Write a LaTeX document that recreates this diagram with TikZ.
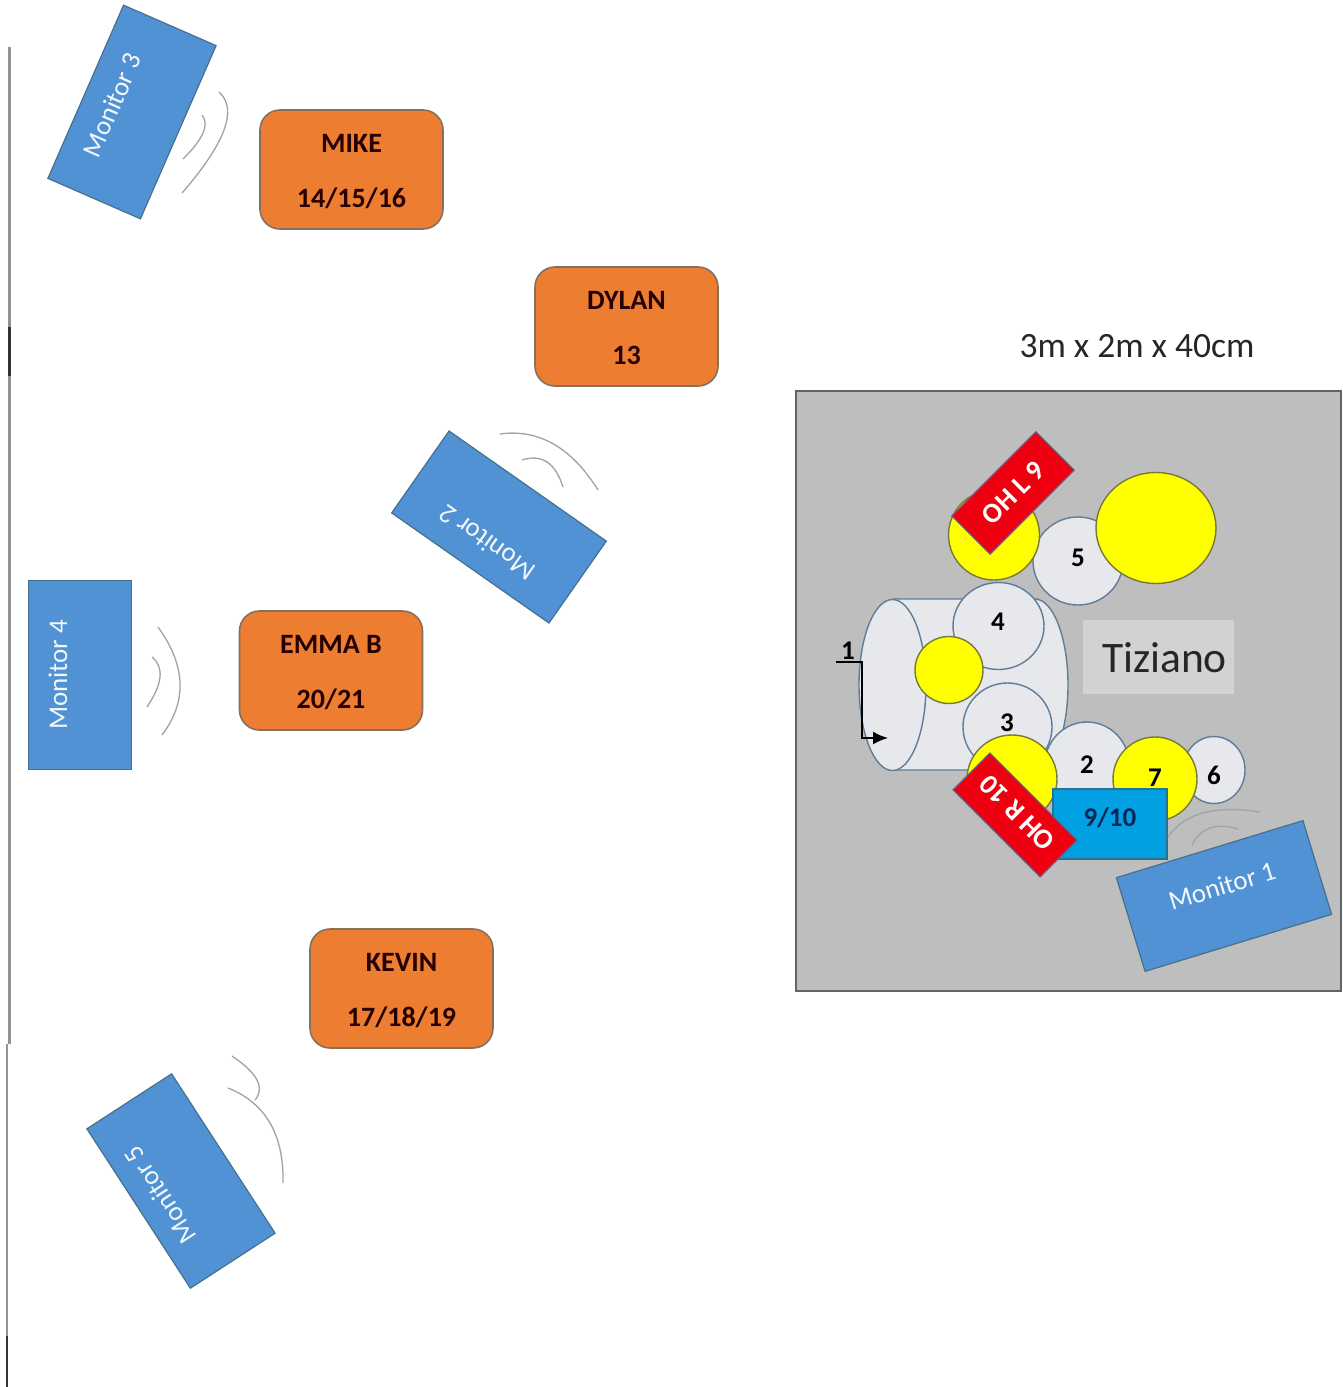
\documentclass[tikz,border=0pt]{standalone}
\usepackage{fontspec}
\setmainfont{Carlito}
\usetikzlibrary{arrows.meta,shapes.geometric,calc}
\definecolor{monfill}{HTML}{5092D4}
\definecolor{monline}{HTML}{47708F}
\definecolor{monfont}{HTML}{F2F7FC}
\definecolor{orfill}{HTML}{ED7D31}
\definecolor{orline}{HTML}{85705F}
\definecolor{riser}{HTML}{BEBEBE}
\definecolor{riserline}{HTML}{5F6468}
\definecolor{drum}{HTML}{E6E8EC}
\definecolor{drumline}{HTML}{5F7C99}
\definecolor{cym}{HTML}{FFFF00}
\definecolor{cymline}{HTML}{77793A}
\definecolor{ohfill}{HTML}{EE0010}
\definecolor{ohline}{HTML}{6D5A78}
\definecolor{tombox}{HTML}{00A0E3}
\definecolor{tomline}{HTML}{2A7090}
\definecolor{tomtext}{HTML}{06265A}
\definecolor{wave}{HTML}{9AA4AF}
\definecolor{labelbox}{HTML}{D2D2D2}
\newcommand{\wavearc}[3]{\draw[soundwave] (#1) .. controls ($(#1)!0.667!(#2)$) and ($(#3)!0.667!(#2)$) .. (#3);}
\newcommand{\plabel}[2]{\raisebox{-2pt}[\height][\depth]{#1}\\\raisebox{-2pt}[\height][\depth]{#2}}
\tikzset{
  monitor/.style={draw=monline,line width=1.2pt,fill=monfill,rectangle,inner sep=0pt,minimum width=192pt,minimum height=100pt},
  montext/.style={text=monfont,inner sep=0pt,font=\fontsize{27}{27}\selectfont},
  person/.style={draw=orline,line width=1.6pt,fill=orfill,rectangle,rounded corners=20pt,inner sep=0pt,minimum width=183pt,minimum height=119pt,align=center,text=black!85!red,font=\fontsize{28}{55}\selectfont\bfseries},
  shell/.style={draw=drumline,line width=1.4pt,fill=drum,ellipse,inner sep=0pt},
  cymbal/.style={draw=cymline,line width=1.4pt,fill=cym,ellipse,inner sep=0pt},
  numtext/.style={inner sep=0pt,text=black,font=\fontsize{27}{27}\selectfont\bfseries},
  overhead/.style={draw=ohline,line width=1.2pt,fill=ohfill,rectangle,inner sep=0pt,minimum width=119pt,minimum height=54pt,text=white,font=\fontsize{28}{28}\selectfont\bfseries},
  soundwave/.style={draw=wave,line width=1.3pt},
  wallgray/.style={draw=gray!85,line width=2.4pt},
  walldark/.style={draw=black!80,line width=2.4pt},
}
\begin{document}
\begin{tikzpicture}[x=1pt,y=-1pt]
\fill[white] (0,0) rectangle (1342,1387);
\useasboundingbox (0,0) rectangle (1342,1387);
% wall line
\draw[wallgray] (9.5,47) -- (9.5,1044);
\draw[walldark] (9.5,327) -- (9.5,376);
\draw[wallgray] (7,1044) -- (7,1387);
\draw[walldark] (7,1336) -- (7,1387);
% sound waves on the floor
\wavearc{219,92}{247.5,117.5}{182,193}
\wavearc{202,115}{213.5,129}{183,159}
\wavearc{158,627}{200,685}{162,735}
\wavearc{152,657}{170.5,672}{147,707}
\wavearc{500,434}{558,426}{598,490}
\wavearc{522,460}{551.5,450.5}{563,487}
\wavearc{228,1088}{284.5,1110.5}{283,1183}
\wavearc{232,1056}{270.5,1082}{255,1100}
% monitors
\node[monitor,rotate=66.4,minimum width=189pt,minimum height=101pt] (m3) at (132,112) {};
\node[montext,rotate=66.4] (m3t) at (112,105) {Monitor 3};
\node[monitor,rotate=90,minimum width=189pt,minimum height=103pt] (m4) at (80,675) {};
\node[montext,rotate=90] (m4t) at (58,675) {Monitor 4};
\node[monitor,rotate=145] (m2) at (499,527) {};
\node[montext,rotate=145] (m2t) at (487,543) {Monitor 2};
\node[monitor,rotate=123,minimum width=190pt,minimum height=101pt] (m5) at (181,1181) {};
\node[montext,rotate=123] (m5t) at (160,1195) {Monitor 5};
% musicians
\node[person] (mike) at (351.5,169.5) {\plabel{MIKE}{14/15/16}};
\node[person] (dylan) at (626.5,326.5) {\plabel{DYLAN}{13}};
\node[person] (emma) at (331,670.5) {\plabel{EMMA B}{20/21}};
\node[person] (kevin) at (401.5,988.5) {\plabel{KEVIN}{17/18/19}};
% riser
\node[inner sep=0pt,text=black!85,font=\fontsize{35.5}{35.5}\selectfont] (size) at (1137,346) {3m x 2m x 40cm};
\draw[draw=riserline,line width=1.8pt,fill=riser] (796,391) rectangle (1341,991);
\node[fill=labelbox,inner sep=0pt,minimum width=151pt,minimum height=74pt,text=black!85,font=\fontsize{43.5}{43.5}\selectfont] (tiz) at (1158.5,657) {\raisebox{-1pt}[\height][\depth]{\hspace*{12pt}Tiziano}};
% kick drum
\draw[draw=drumline,line width=1.4pt,fill=drum] (893,599) -- (1035,599) .. controls (1053,599) and (1068,637.5) .. (1068,685) .. controls (1068,732.5) and (1053,770) .. (1035,770) -- (893,770) -- cycle;
\node[shell,minimum width=67pt,minimum height=171pt] (kick) at (892.5,685) {};
% drums and cymbals
\node[shell,minimum width=91pt,minimum height=87pt] (d4) at (998.5,626) {};
\node[numtext] (d4t) at (998,622) {4};
\node[shell,minimum width=89pt,minimum height=88pt] (d3) at (1007.5,727) {};
\node[numtext] (d3t) at (1007,723) {3};
\node[cymbal,minimum width=68pt,minimum height=67pt] (c1) at (949,670) {};
\node[shell,minimum width=90pt,minimum height=88pt] (d5) at (1078,561) {};
\node[numtext] (d5t) at (1078,558) {5};
\node[cymbal,minimum width=120pt,minimum height=111pt] (c5) at (1156,528) {};
\node[cymbal,minimum width=91pt,minimum height=90pt] (c9) at (994,535) {};
\node[overhead,rotate=45] (ohl) at (1013,493) {OH L 9};
\node[shell,minimum width=85pt,minimum height=88pt] (d2) at (1087,766) {};
\node[numtext] (d2t) at (1087,765) {2};
\node[shell,minimum width=62pt,minimum height=67pt] (d6) at (1214,770) {};
\node[numtext] (d6t) at (1214,775) {6};
\node[cymbal,minimum width=84pt,minimum height=84pt] (c7) at (1155,779) {};
\node[numtext] (c7t) at (1155,778) {7};
\node[cymbal,minimum width=90pt,minimum height=88pt] (c10) at (1012,779) {};
\node[draw=tomline,line width=1.2pt,fill=tombox,rectangle,inner sep=0pt,minimum width=114pt,minimum height=70pt] (tom) at (1110,824) {};
\node[inner sep=0pt,text=tomtext,font=\fontsize{27}{27}\selectfont\bfseries] (tomt) at (1110,818) {9/10};
\node[overhead,rotate=135,minimum width=123pt,minimum height=52pt] (ohr) at (1015,815) {};
\node[inner sep=0pt,rotate=135,text=white,font=\fontsize{28}{28}\selectfont\bfseries] (ohrt) at (1017,813) {OH R 10};
% monitor 1
\wavearc{1168,837}{1192,801.5}{1260,812}
\wavearc{1192,845}{1205,819}{1238,829}
\node[monitor,rotate=17,minimum width=195pt,minimum height=98pt] (m1) at (1224,896) {};
\node[montext,rotate=17] (m1t) at (1222,886) {Monitor 1};
% input 1
\node[numtext] (one) at (848,651) {1};
\coordinate (p0) at (836,662);
\coordinate (p1) at (862,662);
\coordinate (p2) at (862,738);
\coordinate (p3) at (888,738);
\draw[line width=2pt,-{Latex[length=15pt,width=13pt]}] (p0) -- (p1) -- (p2) -- (p3);
\end{tikzpicture}
\end{document}
